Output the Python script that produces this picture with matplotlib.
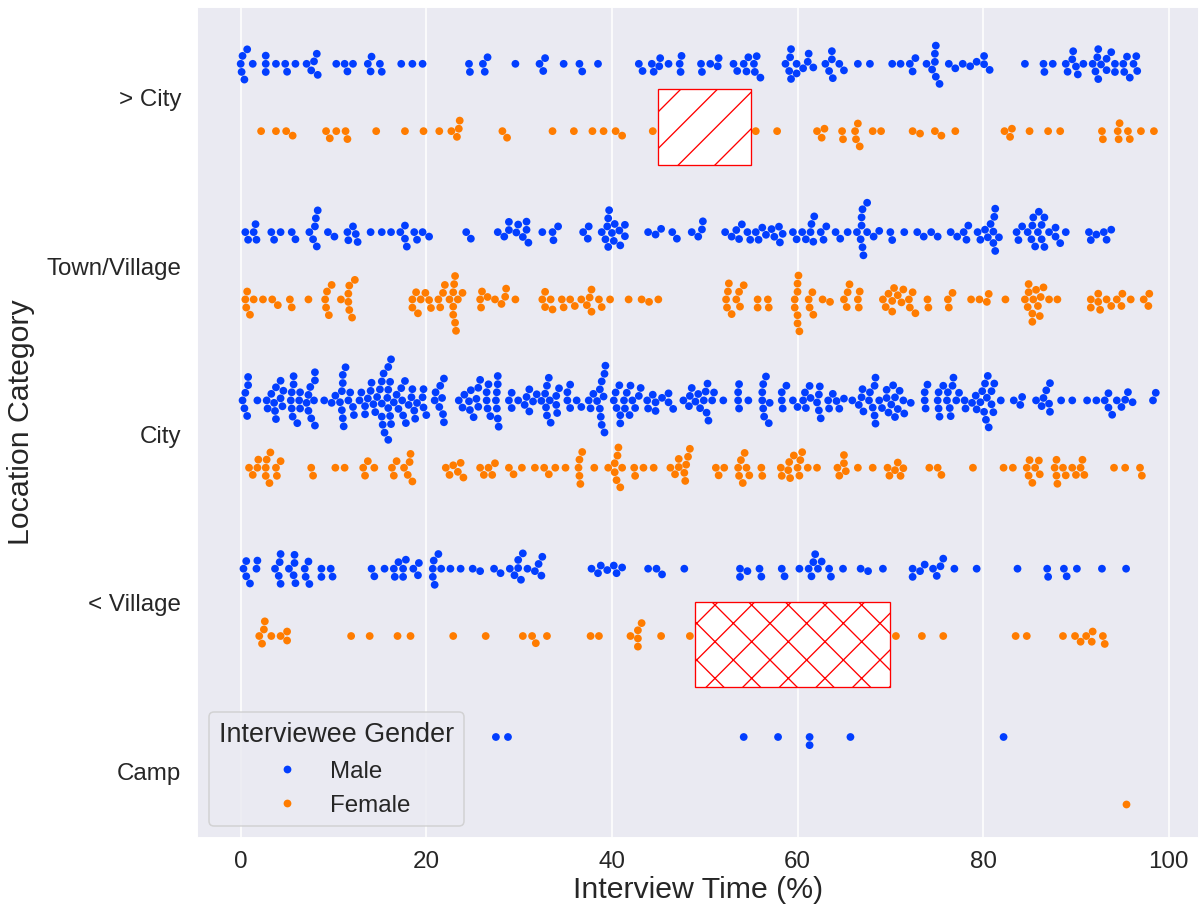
import matplotlib
matplotlib.use("Agg")
import matplotlib.pyplot as plt
from matplotlib.patches import Rectangle
import pandas as pd
import seaborn as sns

# la densité des hachures dépend du dpi : 110 donne l'espacement de la référence
DPI = 110
K = 100 / DPI  # tailles exprimées "à 100 dpi" puis ramenées

categories = ["> City", "Town/Village", "City", "< Village", "Camp"]
genres = ["Male", "Female"]

# Temps d'entretien (%) par catégorie et par genre
sup_city_male = [0.7, 0.2, 0.0, 0.1, 0.4, 1.3, 2.7, 2.7, 2.7, 3.8, 4.8, 5.0, 5.9, 7.1, 7.6, 7.9, 8.2, 8.3,
                 10.3, 11.2, 11.5, 12.1, 14.1, 13.7, 15.0, 14.0, 15.2, 17.3, 18.5, 19.6, 24.6, 24.7, 26.1,
                 26.6, 26.3, 29.6, 32.2, 32.8, 32.6, 34.8, 36.5, 36.8, 38.5, 42.9, 43.3, 44.3, 44.5, 45.2,
                 45.1, 46.1, 47.3, 47.4, 47.5, 49.6, 49.7, 50.6, 51.5, 51.4, 53.1, 53.5, 54.2, 54.7, 54.5,
                 55.4, 55.3, 55.6, 56.0, 58.7, 59.3, 59.2, 59.1, 59.3, 59.9, 59.9, 60.6, 61.2, 61.1, 61.7,
                 63.0, 63.7, 63.7, 63.4, 63.8, 64.5, 65.0, 66.5, 67.8, 70.2, 71.1, 72.1, 72.7, 72.4, 73.9,
                 74.9, 74.8, 74.8, 74.5, 74.9, 75.3, 76.3, 77.0, 77.8, 78.6, 79.3, 80.1, 80.1, 80.7, 84.5,
                 86.5, 86.6, 87.5, 88.9, 89.7, 89.6, 89.1, 90.0, 90.2, 90.8, 91.8, 92.4, 92.3, 92.1, 92.4,
                 92.7, 93.3, 93.8, 93.3, 94.2, 94.2, 95.1, 95.8, 95.5, 96.2, 96.5, 96.6, 95.2]
sup_city_female = [2.2, 3.8, 4.9, 5.6, 9.2, 9.6, 10.3, 11.3, 11.5, 14.6, 17.7, 19.7, 21.4, 22.7, 23.6, 23.5,
                   23.3, 28.2, 28.7, 33.6, 35.9, 37.9, 39.1, 40.4, 41.1, 44.4, 55.5, 57.8, 62.1, 62.9, 62.6,
                   64.8, 64.9, 66.5, 66.2, 66.3, 66.7, 68.1, 69.0, 72.4, 73.2, 74.8, 75.5, 77.0, 82.3, 83.1,
                   82.9, 85.0, 87.0, 88.3, 92.8, 92.9, 94.7, 94.5, 94.6, 95.6, 95.8, 97.0, 98.4]
town_male = [0.5, 0.8, 1.4, 1.6, 1.7, 3.3, 3.6, 4.3, 5.5, 5.9, 7.4, 7.8, 8.2, 8.0, 8.1, 8.3, 9.4, 10.1,
             11.5, 11.6, 12.1, 12.4, 12.6, 14.0, 15.2, 16.2, 17.2, 17.7, 17.9, 17.7, 18.7, 19.0, 19.6, 20.3,
             24.3, 24.8, 27.7, 28.4, 28.9, 28.9, 29.7, 29.9, 30.4, 30.8, 31.0, 30.8, 32.5, 33.6, 33.7, 34.2,
             36.9, 37.5, 37.4, 38.9, 39.3, 39.6, 40.2, 39.5, 39.6, 39.7, 40.3, 40.0, 40.8, 40.9, 41.4, 41.4,
             43.9, 44.7, 45.3, 46.5, 47.0, 48.6, 49.3, 49.8, 49.7, 52.2, 52.9, 53.4, 53.7, 54.0, 54.6, 54.9,
             55.5, 55.8, 56.2, 56.6, 57.2, 57.5, 58.0, 58.1, 58.4, 59.5, 59.9, 60.5, 60.9, 61.5, 61.4, 61.8,
             61.7, 62.5, 62.8, 63.1, 64.1, 64.6, 65.4, 66.4, 66.8, 67.0, 67.1, 66.9, 66.9, 67.0, 67.5, 67.5,
             68.2, 68.8, 70.0, 70.2, 71.5, 72.9, 73.6, 74.4, 75.1, 76.5, 77.2, 77.9, 78.4, 78.2, 79.4, 79.7,
             80.2, 80.5, 80.8, 81.3, 81.1, 81.2, 81.7, 81.1, 81.3, 83.6, 83.8, 84.2, 84.8, 85.2, 85.3, 85.4,
             86.0, 85.9, 86.3, 86.6, 86.3, 85.6, 86.6, 87.1, 87.8, 88.3, 87.8, 88.9, 91.4, 91.6, 92.2, 93.0,
             93.3, 93.8]
town_female = [0.7, 0.5, 0.6, 1.0, 1.4, 2.4, 3.4, 4.0, 5.3, 5.5, 7.3, 9.3, 9.8, 9.1, 9.2, 9.5, 10.8, 11.7,
               11.6, 12.3, 11.6, 11.7, 12.0, 18.5, 18.9, 18.5, 19.1, 19.4, 19.9, 20.3, 20.5, 21.3, 21.5,
               21.8, 22.0, 22.5, 22.9, 22.9, 23.0, 23.2, 23.1, 22.9, 23.1, 23.4, 23.9, 25.8, 26.0, 25.9,
               26.6, 27.4, 28.1, 28.6, 28.5, 29.6, 32.5, 32.8, 32.8, 33.4, 33.6, 34.6, 34.8, 35.5, 36.0,
               36.7, 37.3, 37.6, 37.8, 37.8, 38.6, 38.9, 39.8, 41.8, 43.2, 44.0, 45.0, 52.6, 52.5, 52.3,
               52.4, 52.9, 53.4, 53.8, 53.7, 54.2, 55.7, 55.7, 56.8, 56.9, 59.7, 60.0, 60.0, 60.0, 60.2,
               59.7, 60.0, 60.1, 61.2, 61.6, 61.3, 61.7, 62.7, 63.5, 65.0, 65.4, 65.6, 65.3, 66.5, 66.7,
               66.6, 69.2, 69.5, 69.8, 70.2, 70.4, 70.2, 70.8, 71.4, 71.2, 72.0, 72.4, 72.1, 72.7, 74.0,
               74.1, 76.2, 76.3, 76.7, 78.7, 79.6, 80.4, 80.6, 82.4, 84.5, 84.9, 84.9, 85.4, 84.8, 85.7,
               86.5, 86.2, 85.3, 85.9, 86.1, 85.3, 87.1, 88.0, 91.6, 91.6, 92.4, 92.4, 92.6, 93.3, 93.8,
               94.4, 95.0, 94.9, 95.9, 97.3, 97.9, 97.8]
city_male = [0.7, 0.5, 0.2, 0.4, 0.8, 0.8, 1.8, 2.8, 2.9, 3.3, 3.7, 3.6, 3.8, 3.8, 4.3, 4.5, 4.3, 4.6,
             5.4, 5.5, 5.6, 5.5, 5.7, 5.7, 6.1, 6.4, 6.4, 6.3, 7.1, 7.3, 7.3, 7.5, 7.6, 7.9, 8.0, 8.0, 8.0,
             9.0, 9.8, 10.2, 10.7, 10.9, 11.0, 11.0, 11.3, 10.9, 11.0, 11.1, 11.6, 11.8, 12.2, 12.1,
             12.8, 13.0, 13.4, 13.4, 13.7, 14.0, 14.3, 14.1, 14.5, 14.7, 15.0, 15.2, 15.2, 15.3, 15.4,
             15.9, 16.1, 15.2, 15.9, 15.8, 15.9, 15.5, 15.9, 16.2, 16.2, 16.1, 16.5, 16.8, 17.0, 17.3,
             17.5, 17.4, 17.7, 17.8, 18.1, 18.4, 18.5, 18.8, 18.7, 19.0, 19.7, 19.6, 19.7, 20.0,
             21.0, 20.9, 21.4, 21.7, 21.9, 21.8, 21.5, 21.9, 23.5, 23.9, 24.1, 24.6, 24.8, 25.1, 24.7,
             25.4, 25.6, 25.6, 25.8, 26.5, 26.7, 26.6, 26.5, 26.9, 27.5, 27.7, 27.6, 27.6, 27.7, 27.7,
             27.8, 28.9, 29.2, 29.2, 29.9, 30.6, 30.8, 31.1, 31.1, 31.5, 31.9, 32.4, 32.8, 32.9, 33.2,
             33.0, 33.0, 33.3, 33.4, 34.0, 34.1, 34.0, 34.3, 35.2, 35.2, 35.5, 35.5, 36.2, 36.7, 37.5,
             37.7, 38.0, 38.4, 38.7, 38.9, 39.2, 38.7, 38.8, 39.2, 39.3, 39.1, 38.9, 40.2, 40.4, 40.5,
             40.9, 40.8, 40.9, 41.3, 41.4, 41.6, 41.9, 42.0, 42.2, 42.5, 42.9, 43.1, 43.8, 43.9, 44.4,
             44.7, 44.7, 45.4, 46.1, 46.6, 46.1, 47.7, 48.3, 48.4, 48.6, 49.0, 49.3, 49.5, 49.9, 50.2,
             50.1, 50.3, 50.4, 50.8, 51.0, 52.0, 53.7, 53.7, 53.6, 53.6, 54.7, 56.2, 56.3, 56.4, 56.2,
             56.3, 56.6, 57.0, 56.9, 58.3, 58.3, 58.4, 58.8, 59.5, 60.0, 60.6, 60.8, 61.3, 60.9, 61.4,
             62.1, 62.4, 62.3, 62.3, 62.5, 63.3, 63.4, 63.8, 64.2, 64.5, 65.0, 65.9, 66.6, 66.9, 67.1,
             67.0, 67.7, 67.8, 68.1, 68.3, 68.4, 68.3, 68.4, 68.8, 69.1, 69.6, 69.6, 69.8, 70.1, 70.3,
             70.5, 70.5, 70.8, 71.0, 71.4, 71.5, 72.2, 73.7, 73.8, 73.7, 74.0, 75.1, 75.3, 75.2, 75.2,
             75.7, 76.1, 76.2, 76.5, 76.4, 76.7, 76.8, 77.1, 77.4, 78.0, 78.1, 78.8, 79.2, 79.3, 79.7,
             79.9, 80.2, 80.5, 80.4, 80.1, 80.3, 80.6, 80.9, 81.1, 80.9, 81.2, 81.9, 83.3, 84.0, 84.2,
             85.7, 86.3, 86.5, 86.8, 87.2, 87.2, 87.1, 88.4, 89.6, 91.2, 92.2, 93.1, 93.5, 93.9, 93.5,
             94.4, 94.9, 95.3, 95.6, 96.1, 98.3, 98.6]
city_female = [0.9, 1.3, 1.8, 1.9, 2.7, 2.8, 3.2, 2.7, 3.1, 3.8, 3.9, 4.3, 7.6, 7.8, 10.2, 11.2, 13.2,
               13.4, 13.7, 14.4, 16.3, 16.5, 16.8, 17.6, 18.0, 18.2, 18.3, 18.5, 22.1, 22.5, 22.9, 23.4,
               23.7, 24.0, 25.8, 26.2, 26.7, 27.4, 27.1, 28.9, 29.4, 30.3, 31.7, 32.7, 33.2, 33.9, 35.0,
               36.4, 36.5, 36.5, 36.6, 36.8, 38.1, 39.6, 40.3, 40.7, 40.5, 41.1, 40.9, 40.3, 40.6, 42.4,
               42.5, 43.4, 44.5, 46.3, 46.8, 47.2, 47.2, 48.0, 47.9, 47.8, 48.2, 48.4, 51.2, 51.5, 52.1,
               53.6, 53.9, 54.3, 53.7, 54.1, 54.5, 54.8, 56.1, 56.2, 58.2, 58.3, 59.1, 59.0, 59.2, 59.6,
               60.2, 60.0, 60.3, 60.5, 61.1, 62.1, 64.3, 64.5, 65.0, 65.0, 65.2, 66.5, 68.1, 69.7, 69.9,
               70.5, 70.8, 71.1, 71.4, 74.2, 75.1, 75.5, 78.9, 82.2, 83.2, 84.7, 85.0, 84.9, 85.6, 86.0,
               86.1, 85.3, 87.7, 87.9, 88.0, 87.9, 88.6, 88.9, 89.6, 90.0, 90.5, 90.7, 90.9, 94.1, 95.3,
               96.9, 97.1]
inf_village_male = [0.6, 0.3, 0.6, 1.0, 1.8, 1.7, 3.7, 4.1, 4.2, 4.3, 4.3, 5.2, 5.7, 5.8, 5.8, 5.9, 6.9,
                    7.0, 7.3, 7.4, 8.7, 8.7, 9.7, 9.9, 14.1, 14.4, 15.5, 16.5, 16.6, 17.0, 17.5, 17.5,
                    17.8, 18.6, 19.1, 19.2, 20.8, 20.7, 20.9, 20.7, 21.3, 21.6, 22.6, 23.7, 25.0, 25.8,
                    27.3, 28.0, 29.0, 29.5, 29.9, 29.9, 30.4, 30.2, 30.9, 31.7, 32.1, 32.5, 32.4, 37.8,
                    38.5, 38.8, 39.5, 40.2, 40.5, 41.1, 43.9, 44.8, 45.4, 47.8, 53.8, 53.8, 54.6, 55.9,
                    56.1, 58.3, 58.6, 60.2, 61.2, 61.5, 61.7, 61.9, 62.2, 62.6, 63.4, 63.6, 64.9, 66.8,
                    67.6, 69.2, 72.4, 72.4, 73.2, 73.7, 74.6, 75.0, 75.4, 75.7, 76.9, 79.3, 83.7, 86.9,
                    87.0, 88.7, 89.0, 90.1, 92.8, 95.4]
inf_village_female = [2.0, 2.3, 2.5, 2.6, 3.3, 4.3, 5.0, 5.0, 11.9, 13.9, 16.9, 18.3, 22.9, 26.4, 30.4,
                      31.4, 31.8, 33.0, 37.7, 38.6, 42.0, 42.8, 43.2, 42.8, 42.8, 45.3, 48.4, 70.6, 73.4,
                      75.7, 83.5, 84.7, 88.6, 89.9, 90.5, 91.1, 91.7, 91.8, 92.9, 93.1]
camp_male = [27.5, 28.8, 54.2, 57.9, 61.3, 61.3, 65.7, 82.2]
camp_female = [95.4]

# zones mises en évidence : (x, y, largeur, hauteur, hachure)
zones = [(45, -0.05, 10, 0.45, "/"), (49, 3.0, 21, 0.5, "x")]

series = {
    ("> City", "Male"): sup_city_male, ("> City", "Female"): sup_city_female,
    ("Town/Village", "Male"): town_male, ("Town/Village", "Female"): town_female,
    ("City", "Male"): city_male, ("City", "Female"): city_female,
    ("< Village", "Male"): inf_village_male, ("< Village", "Female"): inf_village_female,
    ("Camp", "Male"): camp_male, ("Camp", "Female"): camp_female,
}
lignes = []
for (cat, genre), valeurs in series.items():
    for v in valeurs:
        lignes.append({"Location Category": cat, "Interviewee Gender": genre, "Interview Time (%)": v})
df = pd.DataFrame(lignes)

sns.set_theme(style="darkgrid")
plt.rcParams["font.family"] = ["Liberation Sans", "DejaVu Sans"]
plt.rcParams["grid.linewidth"] = 1.1 * K
plt.rcParams["hatch.linewidth"] = 0.95 * K

fig = plt.figure(figsize=(1202.4 / DPI, 908.4 / DPI), dpi=DPI)
ax = fig.add_axes([197 / 1202, 1 - 838 / 908, (1199 - 197) / 1202, (838 - 7) / 908])

# taille des points : ~7.7 px de diamètre
sns.swarmplot(data=df, x="Interview Time (%)", y="Location Category", hue="Interviewee Gender",
              order=categories, hue_order=genres, dodge=True, palette="bright",
              size=5.6 * K, linewidth=0, ax=ax)

for x0, y0, w, h, motif in zones:
    ax.add_patch(Rectangle((x0, y0), w, h, facecolor="white", edgecolor="red",
                           hatch=motif, linewidth=0.95 * K, zorder=5))

ax.set_xlim(-4.7, 103.3)
ax.set_ylim(4.40, -0.54)
ax.set_xticks([0, 20, 40, 60, 80, 100])

ax.tick_params(axis="x", labelsize=17.4 * K, pad=9.4 * K, length=0)
ax.tick_params(axis="y", labelsize=17.4 * K, pad=11.5 * K, length=0)
ax.set_xlabel("Interview Time (%)", fontsize=21.8 * K, labelpad=2 * K)
ax.set_ylabel("Location Category", fontsize=21.8 * K, labelpad=8 * K)

handles, labels = ax.get_legend_handles_labels()
ax.legend(handles, labels, title="Interviewee Gender", loc="lower left",
          fontsize=17.4 * K, title_fontsize=19.4 * K)

fig.savefig("out.png", dpi=DPI)
